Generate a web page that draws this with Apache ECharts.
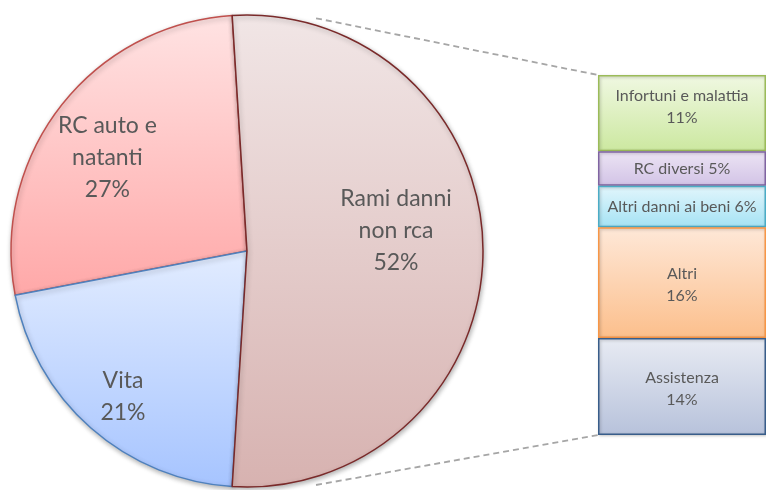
<!DOCTYPE html>
<html>
<head>
<meta charset="utf-8">
<script src="https://cdn.jsdelivr.net/npm/echarts@6/dist/echarts.min.js"></script>
<style>
  html, body { margin: 0; padding: 0; background: #fff; }
  #chart { width: 766px; height: 490px; }
</style>
</head>
<body>
<div id="chart"></div>
<script>
// pie slices (drawn counter-clockwise from the top)
const pieNames = ['RC auto e\nnatanti', 'Vita', 'Rami danni\nnon rca'];
const pieValues = [27, 21, 52];

// breakdown of "Rami danni non rca", top to bottom
const barNames = ['Infortuni e malattia', 'RC diversi', 'Altri danni ai beni', 'Altri', 'Assistenza'];
const barValues = [11, 5, 6, 16, 14];
const barSep = ['\n', ' ', ' ', '\n', '\n'];

// layout
const CX = 247, CY = 251, R = 236;
const GRID_LEFT = 598, GRID_TOP = 75, GRID_H = 360, GRID_W = 176;
const splitShare = pieValues[2] / 100;
const startAngle = splitShare * 180; // split slice centred on the right

function grad(top, bottom) {
    return {
        type: 'linear', x: 0, y: 0, x2: 0, y2: 1,
        colorStops: [{ offset: 0, color: top }, { offset: 1, color: bottom }]
    };
}

const pieStyles = [
    { color: grad('#ffe3e3', '#ffa8a8'), borderColor: '#c0504d' },
    { color: grad('#e2ecff', '#a6c4ff'), borderColor: '#4f81bd' },
    { color: grad('#f1e6e6', '#d7b2b0'), borderColor: '#7a2a2a' }
];
const pieLabelShift = [[-44, -19], [-44, 55], [28, -20]];

const barStyles = [
    { color: grad('#f0f8e2', '#cce8a0'), borderColor: '#9bbb59' },
    { color: grad('#ece4f4', '#d2c3e6'), borderColor: '#8064a2' },
    { color: grad('#e2f6fc', '#a5e2f4'), borderColor: '#4bacc6' },
    { color: grad('#fee8d8', '#fcbf8c'), borderColor: '#f79646' },
    { color: grad('#e8ebf3', '#b7c2db'), borderColor: '#385d8a' }
];
const barLabelDy = [-6, 0, 0, 2, 2];

const chart = echarts.init(document.getElementById('chart'));

// connector lines from the split edge of the pie to the bar corners
const a = (90 - startAngle) * Math.PI / 180;
const lx = CX - (R + 8) * Math.sin(a);
const ly = (R + 8) * Math.cos(a);
function connector(y0, y1) {
    const t = 0.16; // part hidden behind the pie
    return {
        type: 'line', z: -1,
        shape: {
            x1: lx + t * (GRID_LEFT - lx), y1: y0 + t * (y1 - y0),
            x2: GRID_LEFT, y2: y1
        },
        style: { stroke: '#a6a6a6', lineWidth: 1.8, lineDash: [6, 4] }
    };
}

const option = {
    animation: false,
    textStyle: { fontFamily: 'Lato, "Open Sans", sans-serif' },
    graphic: [
        connector(CY - ly, GRID_TOP),
        connector(CY + ly, GRID_TOP + GRID_H)
    ],
    grid: { left: GRID_LEFT, top: GRID_TOP, width: GRID_W, height: GRID_H },
    xAxis: { type: 'category', data: [''], show: false },
    yAxis: { type: 'value', min: 0, max: splitShare * 100, inverse: true, show: false },
    series: [
        {
            type: 'pie',
            center: [CX, CY],
            radius: R,
            startAngle: startAngle,
            clockwise: false,
            z: 3,
            data: pieNames.map((n, i) => ({
                name: n,
                value: pieValues[i],
                itemStyle: Object.assign({ borderWidth: 1.5 }, pieStyles[i])
            })),
            itemStyle: {
                shadowBlur: 5, shadowColor: 'rgba(0,0,0,0.3)',
                shadowOffsetX: 1, shadowOffsetY: 2
            },
            label: {
                position: 'inside',
                formatter: '{b}\n{d}%',
                color: '#595959',
                fontSize: 23,
                lineHeight: 32,
                fontFamily: 'Lato, "Open Sans", sans-serif'
            },
            labelLayout: function (p) {
                const s = pieLabelShift[p.dataIndex];
                return { dx: s[0], dy: s[1] };
            },
            emphasis: { disabled: true }
        }
    ].concat(barNames.map((n, i) => ({
        type: 'bar',
        name: n,
        stack: 'split',
        barWidth: '100%',
        data: [barValues[i]],
        itemStyle: Object.assign({
            borderWidth: 1.5,
            shadowBlur: 3, shadowColor: 'rgba(0,0,0,0.25)', shadowOffsetX: 1, shadowOffsetY: 1
        }, barStyles[i]),
        label: {
            show: true,
            position: 'inside',
            offset: [0, barLabelDy[i]],
            formatter: n + barSep[i] + barValues[i] + '%',
            color: '#595959',
            fontSize: 16,
            lineHeight: 22,
            fontFamily: 'Lato, "Open Sans", sans-serif'
        },
        emphasis: { disabled: true }
    })))
};

chart.setOption(option);
</script>
</body>
</html>
